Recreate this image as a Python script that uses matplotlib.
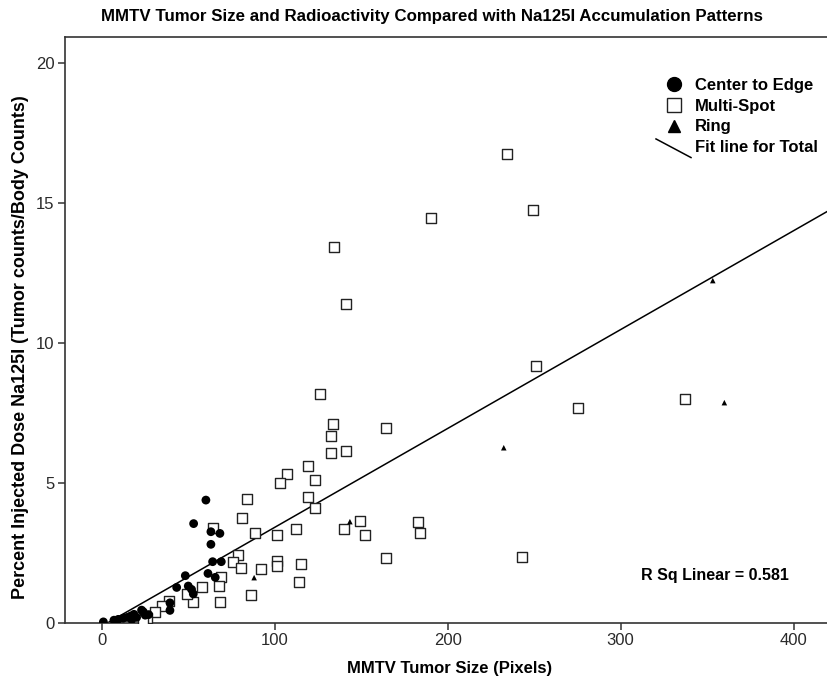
import numpy as np
import matplotlib.pyplot as plt
from matplotlib.lines import Line2D
from matplotlib.legend_handler import HandlerBase

# values
center_x = [60.1, 53.0, 63.0, 68.2, 63.0, 64.0, 69.0, 48.2, 61.3, 65.5, 43.2, 49.9,
            51.8, 52.8, 39.3, 39.3, 23.9, 22.9, 27.0, 25.0, 18.5, 16.6, 14.6, 12.3,
            9.4, 6.9, 17.2, 20.0, 0.8]
center_y = [4.39, 3.55, 3.26, 3.20, 2.81, 2.19, 2.19, 1.69, 1.77, 1.63, 1.27, 1.32,
            1.20, 1.04, 0.72, 0.45, 0.40, 0.46, 0.30, 0.28, 0.31, 0.25, 0.20, 0.17,
            0.13, 0.10, 0.12, 0.20, 0.04]

multi_x = [234.3, 249.3, 190.2, 134.1, 141.2, 251.2, 126.0, 275.3, 337.4, 133.9,
           164.2, 132.2, 132.2, 141.2, 119.3, 107.1, 103.1, 123.1, 119.3, 123.1,
           84.0, 80.9, 64.2, 88.3, 101.0, 112.0, 139.9, 149.1, 152.0, 183.0,
           184.2, 164.2, 242.8, 78.6, 75.9, 80.2, 92.1, 101.0, 101.0, 115.2,
           114.0, 86.0, 68.0, 69.0, 67.4, 57.8, 52.8, 49.3, 38.7, 34.7,
           30.5, 25.8, 24.0]
multi_y = [16.74, 14.75, 14.48, 13.42, 11.39, 9.18, 8.17, 7.69, 7.99, 7.12,
           6.96, 6.68, 6.06, 6.13, 5.60, 5.33, 5.01, 5.10, 4.49, 4.10,
           4.43, 3.76, 3.39, 3.20, 3.14, 3.36, 3.36, 3.65, 3.14, 3.60,
           3.23, 2.32, 2.36, 2.43, 2.17, 1.95, 1.92, 2.22, 2.02, 2.09,
           1.48, 1.01, 0.76, 1.65, 1.32, 1.27, 0.76, 1.04, 0.79, 0.60,
           0.40, 0.17, 0.10]

ring_x = [353.3, 360.0, 232.4, 143.4, 88.0]
ring_y = [12.23, 7.87, 6.26, 3.62, 1.62]

fit_slope = 0.0353
fit_intercept = -0.11
r_sq = 0.581

title = "MMTV Tumor Size and Radioactivity Compared with Na125I Accumulation Patterns"
x_label = "MMTV Tumor Size (Pixels)"
y_label = "Percent Injected Dose Na125I (Tumor counts/Body Counts)"
x_ticks = [0, 100, 200, 300, 400]
y_ticks = [0, 5, 10, 15, 20]

plain = ["Liberation Sans", "DejaVu Sans"]


class HandlerDiag(HandlerBase):
    # fit line drawn as a short diagonal like in the SPSS legend
    def create_artists(self, legend, orig_handle, xdescent, ydescent,
                       width, height, fontsize, trans):
        ln = Line2D([-xdescent, width - xdescent],
                    [height - ydescent + 1, -ydescent - 4],
                    color="black", lw=1.1, transform=trans)
        return [ln]


fig = plt.figure(figsize=(8.27, 6.91), dpi=100)
ax = fig.add_axes([65 / 827, 68 / 691, 770 / 827, 586 / 691])

xs = np.array([-21.4, 424])
ax.plot(xs, fit_intercept + fit_slope * xs, color="black", lw=1.1, zorder=2)

ax.scatter(multi_x, multi_y, marker="s", s=50, facecolor="white",
           edgecolor="#222222", linewidth=1.0, zorder=3)
ax.scatter(center_x, center_y, marker="o", s=40, color="black",
           edgecolor="none", zorder=4)
ax.scatter(ring_x, ring_y, marker="^", s=16, color="black",
           edgecolor="none", zorder=5)

ax.set_xlim(-21.4, 424)
ax.set_ylim(0, 20.93)
ax.set_xticks(x_ticks)
ax.set_yticks(y_ticks)
ax.tick_params(direction="out", length=5, width=1.1, color="#333333",
               labelsize=12, labelcolor="#2a2a2a", pad=2.5)
for lab in ax.get_xticklabels() + ax.get_yticklabels():
    lab.set_family(plain)
for sp in ax.spines.values():
    sp.set_color("#333333")
    sp.set_linewidth(1.2)

ax.set_xlabel(x_label, family=plain, fontsize=12, fontweight="bold", labelpad=9)
ax.set_ylabel(y_label, family=plain, fontsize=13, fontweight="bold")
ax.yaxis.set_label_coords(-0.047, (623 - 347) / 586)
fig.text(432 / 827, 1 - 17 / 691, title, family=plain, fontsize=12.2,
         fontweight="bold", ha="center", va="center")

ax.text(397.5, 1.68, f"R Sq Linear = {r_sq}", family=plain, fontsize=11.5,
        fontweight="bold", ha="right", va="center")

handles = [
    Line2D([], [], ls="none", marker="o", ms=10, color="black"),
    Line2D([], [], ls="none", marker="s", ms=10, mfc="white", mec="#222222", mew=1.0),
    Line2D([], [], ls="none", marker="^", ms=8, color="black"),
    Line2D([], [], color="black", lw=1.1),
]
labels = ["Center to Edge", "Multi-Spot", "Ring", "Fit line for Total"]
leg = ax.legend(handles, labels, loc="upper left",
                bbox_to_anchor=(656 / 827, 1 - 78 / 691),
                bbox_transform=fig.transFigure, frameon=False,
                borderpad=0, borderaxespad=0, handlelength=2.1,
                handletextpad=0.25, labelspacing=0.34,
                handler_map={handles[3]: HandlerDiag()},
                prop={"family": plain, "size": 12, "weight": "bold"})

fig.savefig("out.png", dpi=100)
